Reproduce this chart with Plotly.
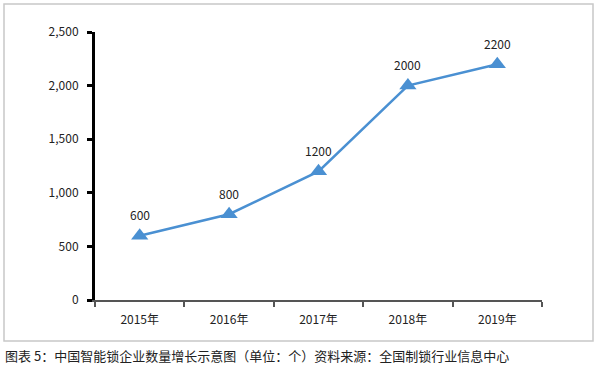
import plotly.graph_objects as go

years = ["2015年", "2016年", "2017年", "2018年", "2019年"]
counts = [600, 800, 1200, 2000, 2200]
y_ticks = [0, 500, 1000, 1500, 2000, 2500]
caption = "图表 5：中国智能锁企业数量增长示意图（单位：个）资料来源：全国制锁行业信息中心"

font_family = "Noto Sans CJK SC, Noto Sans, sans-serif"
blue = "#4a90d2"

fig = go.Figure()
fig.add_trace(go.Scatter(
    x=years, y=counts, mode="lines+markers",
    line=dict(color=blue, width=2.5),
    marker=dict(symbol="triangle-up", size=15, color=blue),
    cliponaxis=False, showlegend=False,
))

L, R, T, B = 95, 58, 32, 69
pw, ph = 600 - L - R, 369 - T - B

def px_x(p):
    return (p - L) / pw

def px_y(p):
    return (369 - B - p) / ph

annotations = [dict(
    x=yr, y=v, xref="x", yref="y", text=str(v), showarrow=False,
    yshift=21, font=dict(size=12, color="#222", family=font_family),
) for yr, v in zip(years, counts)]

annotations.append(dict(
    text=caption, xref="paper", yref="paper",
    x=px_x(3), y=px_y(355), xanchor="left", yanchor="middle",
    showarrow=False, font=dict(size=13, color="#222", family=font_family),
))

fig.update_layout(
    width=600, height=369,
    margin=dict(l=L, r=R, t=T, b=B),
    paper_bgcolor="white", plot_bgcolor="white",
    font=dict(family=font_family, size=12, color="#222"),
    xaxis=dict(
        type="category", range=[-0.5, len(years) - 0.5],
        tickson="boundaries", ticks="outside", ticklen=5,
        tickcolor="#555", tickwidth=1.5, showline=True, linecolor="#555", linewidth=1.5,
        showgrid=False, tickfont=dict(size=12, color="#222"), fixedrange=True,
        ticklabelstandoff=8,
    ),
    yaxis=dict(
        range=[0, 2500], tickvals=y_ticks, tickformat=",", ticks="outside",
        ticklen=5, tickwidth=3, tickcolor="black", showline=True, linecolor="black",
        linewidth=3, showgrid=False, zeroline=False,
        tickfont=dict(size=12, color="#222"), fixedrange=True,
        ticklabelstandoff=6,
    ),
    shapes=[dict(
        type="rect", xref="paper", yref="paper",
        x0=px_x(4), x1=px_x(593), y0=px_y(341), y1=px_y(4),
        line=dict(color="#c8c8c8", width=1.5), layer="below",
    )],
    annotations=annotations,
)

fig.write_html("out.html", config={"displayModeBar": False},
               post_script="document.body.style.margin='0';")
